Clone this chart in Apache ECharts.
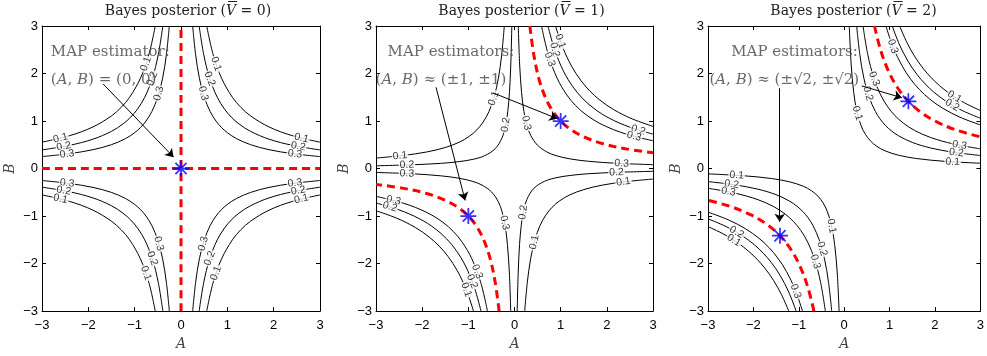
<!DOCTYPE html>
<html><head><meta charset="utf-8">
<script src="https://cdn.jsdelivr.net/npm/echarts@6/dist/echarts.min.js"></script>
<style>html,body{margin:0;padding:0;background:#fff}#c{width:987px;height:356px}</style>
</head><body><div id="c"></div>
<script>
// ---------- data (first-quadrant branches of contour lines) ----------
// V = 0 : levels 0.3 / 0.2 / 0.1
const C_V0_03 = [[0.252,3],[0.315,2.4],[0.397,1.9],[0.503,1.5],[0.629,1.2],[0.755,1.0],[0.869,0.869],[1.0,0.755],[1.2,0.629],[1.5,0.503],[1.9,0.397],[2.4,0.315],[3,0.252]];
const C_V0_02 = [[0.392,3],[0.49,2.4],[0.618,1.9],[0.783,1.5],[0.94,1.25],[1.084,1.084],[1.25,0.94],[1.5,0.783],[1.9,0.618],[2.4,0.49],[3,0.392]];
const C_V0_01 = [[0.555,3],[0.693,2.4],[0.876,1.9],[1.109,1.5],[1.29,1.29],[1.5,1.109],[1.9,0.876],[2.4,0.693],[3,0.555]];
// V = 1
const C_V1_03in = [[0.082,3],[0.111,2.2],[0.153,1.6],[0.204,1.2],[0.272,0.9],[0.35,0.7],[0.495,0.495],[0.7,0.35],[0.9,0.272],[1.2,0.204],[1.6,0.153],[2.2,0.111],[3,0.082]];
const C_V1_02in = [[0.058,3],[0.08,2.2],[0.109,1.6],[0.146,1.2],[0.194,0.9],[0.269,0.65],[0.418,0.418],[0.65,0.269],[0.9,0.194],[1.2,0.146],[1.6,0.109],[2.2,0.08],[3,0.058]];
const C_V1_01in = [[0.221,3],[0.277,2.4],[0.349,1.9],[0.443,1.5],[0.553,1.2],[0.678,0.98],[0.815,0.815],[0.98,0.678],[1.2,0.553],[1.5,0.443],[1.9,0.349],[2.4,0.277],[3,0.221]];
const C_V1_03out = [[0.585,3],[0.731,2.4],[0.924,1.9],[1.132,1.55],[1.325,1.325],[1.55,1.132],[1.9,0.924],[2.4,0.731],[3,0.585]];
const C_V1_02out = [[0.725,3],[0.87,2.5],[1.061,2.05],[1.265,1.72],[1.475,1.475],[1.72,1.265],[2.05,1.061],[2.5,0.87],[3,0.725]];
const C_V1_01out = [[0.888,3],[1.045,2.55],[1.239,2.15],[1.44,1.85],[1.632,1.632],[1.85,1.44],[2.15,1.239],[2.55,1.045],[3,0.888]];
const RED_V1 = [[0.333,3],[0.417,2.4],[0.526,1.9],[0.667,1.5],[0.833,1.2],[1,1],[1.2,0.833],[1.5,0.667],[1.9,0.526],[2.4,0.417],[3,0.333]];
// V = 2
const C_V2_01in = [[0.112,3],[0.153,2.2],[0.21,1.6],[0.28,1.2],[0.373,0.9],[0.467,0.72],[0.58,0.58],[0.72,0.467],[0.9,0.373],[1.2,0.28],[1.6,0.21],[2.2,0.153],[3,0.112]];
const C_V2_02in = [[0.275,3],[0.344,2.4],[0.434,1.9],[0.55,1.5],[0.688,1.2],[0.793,1.04],[0.908,0.908],[1.04,0.793],[1.2,0.688],[1.5,0.55],[1.9,0.434],[2.4,0.344],[3,0.275]];
const C_V2_03in = [[0.415,3],[0.519,2.4],[0.655,1.9],[0.803,1.55],[0.958,1.3],[1.116,1.116],[1.3,0.958],[1.55,0.803],[1.9,0.655],[2.4,0.519],[3,0.415]];
const C_V2_03out = [[0.918,3],[1.08,2.55],[1.27,2.17],[1.465,1.88],[1.66,1.66],[1.88,1.465],[2.17,1.27],[2.55,1.08],[3,0.918]];
const C_V2_02out = [[1.058,3],[1.221,2.6],[1.411,2.25],[1.604,1.98],[1.782,1.782],[1.98,1.604],[2.25,1.411],[2.6,1.221],[3,1.058]];
const C_V2_01out = [[1.221,3],[1.383,2.65],[1.559,2.35],[1.745,2.1],[1.914,1.914],[2.1,1.745],[2.35,1.559],[2.65,1.383],[3,1.221]];
const RED_V2 = [[0.667,3],[0.8,2.5],[0.976,2.05],[1.176,1.7],[1.414,1.414],[1.7,1.176],[2.05,0.976],[2.5,0.8],[3,0.667]];
const RED_V0_AXES = [[[0,-3],[0,3]],[[-3,0],[3,0]]];

// which quadrants each branch appears in, per panel
const CONTOURS = [
  [[C_V0_03,[1,2,3,4]],[C_V0_02,[1,2,3,4]],[C_V0_01,[1,2,3,4]]],
  [[C_V1_03in,[1,3]],[C_V1_02in,[2,4]],[C_V1_01in,[2,4]],[C_V1_03out,[1,3]],[C_V1_02out,[1,3]],[C_V1_01out,[1,3]]],
  [[C_V2_01in,[1,3]],[C_V2_02in,[1,3]],[C_V2_03in,[1,3]],[C_V2_03out,[1,3]],[C_V2_02out,[1,3]],[C_V2_01out,[1,3]]]
];
const RED_BRANCHES = [null, [RED_V1,[1,3]], [RED_V2,[1,3]]];
const MAP_POINTS = [[[0,0]], [[1,1],[-1,-1]], [[1.414,1.414],[-1.414,-1.414]]];

// contour labels: [panel, A, B, text]
const LEVEL_LABELS = [
  [0,0.756,2.2,'0.1'],[0,0.62,1.89,'0.2'],[0,0.48,1.58,'0.3'],[0,2.6,0.64,'0.1'],[0,2.53,0.464,'0.2'],[0,2.46,0.307,'0.3'],
  [0,-0.756,2.2,'0.1'],[0,-0.62,1.89,'0.2'],[0,-0.48,1.58,'0.3'],[0,-2.6,0.64,'0.1'],[0,-2.53,0.464,'0.2'],[0,-2.46,0.307,'0.3'],
  [0,-0.48,-1.58,'0.3'],[0,-0.62,-1.89,'0.2'],[0,-0.756,-2.2,'0.1'],[0,-2.46,-0.307,'0.3'],[0,-2.53,-0.464,'0.2'],[0,-2.6,-0.64,'0.1'],
  [0,0.48,-1.58,'0.3'],[0,0.62,-1.89,'0.2'],[0,0.756,-2.2,'0.1'],[0,2.46,-0.307,'0.3'],[0,2.53,-0.464,'0.2'],[0,2.6,-0.64,'0.1'],
  [1,-0.45,1.475,'0.1'],[1,-2.48,0.268,'0.1'],[1,-0.19,0.92,'0.2'],[1,-2.33,0.075,'0.2'],[1,0.255,0.96,'0.3'],[1,2.32,0.106,'0.3'],
  [1,-2.33,-0.105,'0.3'],[1,-0.215,-1.14,'0.3'],[1,0.19,-0.92,'0.2'],[1,2.21,-0.079,'0.2'],[1,0.43,-1.55,'0.1'],[1,2.36,-0.281,'0.1'],
  [1,0.994,2.68,'0.1'],[1,0.87,2.5,'0.2'],[1,0.763,2.3,'0.3'],[1,2.68,0.81,'0.2'],[1,2.59,0.678,'0.3'],
  [1,-2.62,-0.67,'0.3'],[1,-2.7,-0.806,'0.2'],[1,-0.81,-2.17,'0.3'],[1,-0.916,-2.375,'0.2'],[1,-1.045,-2.55,'0.1'],
  [2,0.66,1.89,'0.3'],[2,0.522,1.58,'0.2'],[2,0.288,1.165,'0.1'],[2,2.54,0.49,'0.3'],[2,2.47,0.334,'0.2'],[2,2.39,0.14,'0.1'],
  [2,1.07,2.57,'0.3'],[2,2.43,1.51,'0.1'],[2,2.38,1.334,'0.2'],
  [2,-2.37,-0.142,'0.1'],[2,-2.48,-0.333,'0.2'],[2,-2.55,-0.488,'0.3'],[2,-0.278,-1.21,'0.1'],[2,-0.488,-1.69,'0.2'],[2,-0.635,-1.96,'0.3'],
  [2,-2.37,-1.34,'0.2'],[2,-2.43,-1.51,'0.1'],[2,-1.068,-2.58,'0.3']
];

// annotations: [panel, A, B, text]
const NOTE_TEXTS = [
  [0,-2.82,2.44,'MAP estimator:'],[0,-2.82,1.87,'({i|A}, {i|B}) = (0, 0)'],
  [1,-2.76,2.44,'MAP estimators:'],[1,-3.02,1.87,'({i|A}, {i|B}) \u2248 (\u00b11, \u00b11)'],
  [2,-2.5,2.44,'MAP estimators:'],[2,-2.98,1.87,'({i|A}, {i|B}) \u2248 (\u00b1\u221a2, \u00b1\u221a2)']
];
const NOTE_ARROWS = [
  [0,[-1.68,1.78],[-0.16,0.24]],
  [1,[-0.46,1.59],[0.93,1.05]],[1,[-1.70,1.71],[-1.07,-0.67]],
  [2,[0.385,1.74],[1.27,1.49]],[2,[-1.42,1.69],[-1.42,-1.12]]
];
// title pieces: prefix, overlined italic symbol, suffix
const TITLE_PRE = 'Bayes posterior (';
const TITLE_SYM = 'V';
const TITLE_POST = [' = 0)', ' = 1)', ' = 2)'];
const TICKS = [-3,-2,-1,0,1,2,3];

// ---------- layout / style ----------
const GRIDS = [
  {left:42, top:26, width:278, height:291},
  {left:376, top:26, width:277, height:291},
  {left:708, top:26, width:277, height:291}
];
const SIGN = {1:[1,1],2:[-1,1],3:[-1,-1],4:[1,-1]};
const place = (pts,q)=>pts.map(p=>[SIGN[q][0]*p[0], SIGN[q][1]*p[1]]);
const STAR = 'path://M0,8.9H20V11.1H0ZM8.9,0H11.1V20H8.9ZM3.8,2.2L17.8,16.2L16.2,17.8L2.2,3.8ZM17.8,3.8L3.8,17.8L2.2,16.2L16.2,2.2Z';
const tickFmt = v => v < 0 ? '\u2212' + (-v) : String(v);
const SERIF = "'DejaVu Serif', 'Liberation Serif', serif";
const SANS = "'Liberation Sans', Arial, sans-serif";
const NOTE_COLOR = '#444';
const TITLE_FS = 14, TITLE_Y = 11, TITLE_COLOR = '#222';

const xAxes = [], yAxes = [], series = [];
GRIDS.forEach((g,p)=>{
  const common = {gridIndex:p, type:'value', min:TICKS[0], max:TICKS[TICKS.length-1], interval:1,
    splitLine:{show:false},
    axisLine:{show:true,onZero:false,lineStyle:{color:'#000',width:1}},
    axisTick:{show:true,inside:true,length:4,lineStyle:{color:'#000',width:1}}};
  xAxes.push(Object.assign({}, common, {position:'bottom',
    axisLabel:{color:'#000',fontSize:13,fontFamily:SANS,margin:8,formatter:tickFmt},
    name:'A', nameLocation:'middle', nameGap:20,
    nameTextStyle:{fontFamily:SERIF,fontStyle:'italic',fontSize:14,color:NOTE_COLOR}}));
  xAxes.push(Object.assign({}, common, {position:'top', axisLabel:{show:false}}));
  yAxes.push(Object.assign({}, common, {position:'left',
    axisLabel:{color:'#000',fontSize:13,fontFamily:SANS,margin:4,formatter:tickFmt},
    name:'B', nameLocation:'middle', nameGap:25, nameRotate:90,
    nameTextStyle:{fontFamily:SERIF,fontStyle:'italic',fontSize:14,color:NOTE_COLOR}}));
  yAxes.push(Object.assign({}, common, {position:'right', axisLabel:{show:false}}));

  const ax = {xAxisIndex:2*p, yAxisIndex:2*p};
  const blackLines = [];
  CONTOURS[p].forEach(([pts,qs])=>qs.forEach(q=>{
    const d = place(pts,q); blackLines.push(d);
    series.push(Object.assign({type:'line', data:d, showSymbol:false, symbol:'none', smooth:0.35,
      lineStyle:{color:'#000',width:1}, silent:true, animation:false, z:2}, ax));
  }));
  const reds = p===0 ? RED_V0_AXES : RED_BRANCHES[p][1].map(q=>place(RED_BRANCHES[p][0],q));
  reds.forEach(d=>series.push(Object.assign({type:'line', data:d, showSymbol:false, symbol:'none', smooth:0.35,
    lineStyle:{color:'#ff0000',width:3,type:[8,5]}, silent:true, animation:false, z:3}, ax)));

  // rotation of level labels from nearest contour segment (pixel space)
  const sx = g.width/6, sy = g.height/6;
  const labelData = LEVEL_LABELS.filter(l=>l[0]===p).map(l=>{
    let best=Infinity, ang=0;
    blackLines.forEach(line=>{
      for(let i=0;i<line.length-1;i++){
        const ax1=line[i][0]*sx, ay1=line[i][1]*sy, ax2=line[i+1][0]*sx, ay2=line[i+1][1]*sy;
        const px=l[1]*sx, py=l[2]*sy;
        const dx=ax2-ax1, dy=ay2-ay1, L=dx*dx+dy*dy;
        let t=L?((px-ax1)*dx+(py-ay1)*dy)/L:0; t=Math.max(0,Math.min(1,t));
        const ex=ax1+t*dx-px, ey=ay1+t*dy-py, dd=ex*ex+ey*ey;
        if(dd<best){best=dd; ang=Math.atan2(dy,dx)*180/Math.PI;}
      }
    });
    if(ang>90) ang-=180; if(ang<=-90) ang+=180;
    return {value:[l[1],l[2]], label:{formatter:l[3], rotate:ang}};
  });
  series.push(Object.assign({type:'scatter', data:labelData, symbolSize:1, itemStyle:{color:'rgba(0,0,0,0)'},
    silent:true, animation:false, z:4,
    label:{show:true, position:'inside', fontFamily:SANS, fontSize:10.5, color:'#000',
      backgroundColor:'#fff', padding:[0,1], lineHeight:10}}, ax));

  series.push(Object.assign({type:'scatter', data:MAP_POINTS[p], symbol:STAR, symbolSize:16,
    itemStyle:{color:'#0000ff'}, silent:true, animation:false, z:6}, ax));

  series.push(Object.assign({type:'scatter', silent:true, animation:false, z:5, clip:false,
    data:NOTE_TEXTS.filter(n=>n[0]===p).map(n=>({value:[n[1],n[2]], label:{formatter:n[3]}})),
    symbolSize:1, itemStyle:{color:'rgba(0,0,0,0)'},
    label:{show:true, position:'right', distance:0, fontFamily:SERIF, fontSize:15, color:NOTE_COLOR,
      rich:{i:{fontFamily:SERIF, fontStyle:'italic', fontSize:15, color:NOTE_COLOR}}},
    markLine:{silent:true, animation:false, symbol:['none','arrow'], symbolSize:8,
      lineStyle:{color:'#000', width:1, type:'solid'}, label:{show:false}, emphasis:{disabled:true},
      data:NOTE_ARROWS.filter(a=>a[0]===p).map(a=>[{coord:a[1]},{coord:a[2]}])}}, ax));
});

// titles with an overlined italic V (bar drawn as a line over the measured glyph)
const mctx = document.createElement('canvas').getContext('2d');
const measure = (txt, italic)=>{ mctx.font = (italic?'italic ':'') + TITLE_FS + 'px ' + SERIF; return mctx.measureText(txt).width; };
const graphics = [];
GRIDS.forEach((g,p)=>{
  const cx = g.left + g.width/2 + 7;
  const w1 = measure(TITLE_PRE,false), wv = measure(TITLE_SYM,true), w2 = measure(TITLE_POST[p],false);
  const x0 = cx - (w1+wv+w2)/2;
  graphics.push({type:'text', silent:true, x:x0, y:TITLE_Y,
    style:{text:TITLE_PRE + '{i|' + TITLE_SYM + '}' + TITLE_POST[p], align:'left', verticalAlign:'middle',
      fontFamily:SERIF, fontSize:TITLE_FS, fill:TITLE_COLOR,
      rich:{i:{fontFamily:SERIF, fontStyle:'italic', fontSize:TITLE_FS, fill:TITLE_COLOR}}}});
  graphics.push({type:'line', silent:true,
    shape:{x1:x0 + w1 + 2, y1:TITLE_Y - 9.5, x2:x0 + w1 + wv + 1, y2:TITLE_Y - 9.5},
    style:{stroke:TITLE_COLOR, lineWidth:1}});
});

const chart = echarts.init(document.getElementById('c'), null, {renderer:'canvas'});
chart.setOption({
  animation:false,
  backgroundColor:'#fff',
  grid: GRIDS.map(g=>Object.assign({containLabel:false}, g)),
  xAxis: xAxes, yAxis: yAxes, series: series,
  graphic: graphics
});
</script></body></html>
